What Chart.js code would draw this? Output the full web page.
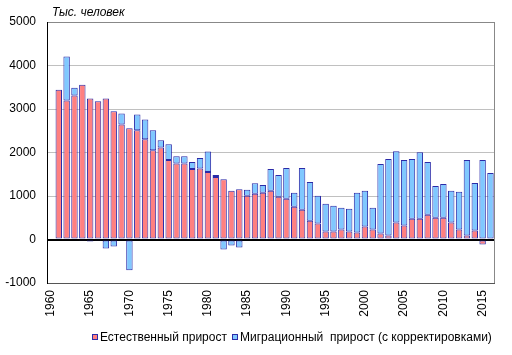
<!DOCTYPE html>
<html>
<head>
<meta charset="utf-8">
<script src="https://cdn.jsdelivr.net/npm/chart.js@4.4.1/dist/chart.umd.min.js"></script>
<style>
html,body{margin:0;padding:0;background:#fff;}
#wrap{width:512px;height:355px;position:relative;}
</style>
</head>
<body>
<div id="wrap"><canvas id="c" width="512" height="355"></canvas></div>
<script>
const years = [];
for (let y = 1960; y <= 2016; y++) years.push(String(y));

const naturalIncrease = [null,
 3445, 3194, 3308, 3559, 3240, 3179, 3240, 2951, 2646, 2555,
 2510, 2304, 2053, 2114, 1825, 1749, 1749, 1620, 1635, 1551,
 1437, 1384, 1118, 1156, 1004, 1049, 1072, 1118, 981, 935,
 753, 684, 433, 365, 183, 183, 228, 183, 160, 297,
 228, 137, 91, 388, 319, 479, 479, 570, 502, 502,
 388, 228, 91, 205, -114, -15];

const migrationIncrease = [null,
 -25, 1011, 182, -20, -45, -20, -205, -160, 251, -707,
 365, 456, 457, 167, 365, 167, 167, 159, 236, 472,
 46, -228, -137, -183, 137, 244, 183, 502, 502, 708,
 319, 958, 890, 639, 638, 593, 502, 524, 912, 821,
 502, 1597, 1757, 1642, 1506, 1369, 1529, 1209, 730, 776,
 730, 867, 1734, 1095, 1825, 1528];

const seriesNames = ['Естественный прирост', 'Миграционный  прирост (с корректировками)'];
const unitTitle = 'Тыс. человек';

const FONT = '"Liberation Sans", Arial, sans-serif';
const RED = '#ff8080';
const BLUE = '#80c8ff';
const EDGE = '#2b2ba8';

const extras = {
  id: 'extras',
  afterDraw(chart) {
    const ctx = chart.ctx;
    const a = chart.chartArea;
    ctx.save();
    ctx.strokeStyle = '#888';
    ctx.lineWidth = 1;
    ctx.beginPath();
    ctx.moveTo(Math.round(a.right) + 0.5, a.top);
    ctx.lineTo(Math.round(a.right) + 0.5, a.bottom);
    ctx.stroke();
    ctx.fillStyle = '#000';
    ctx.font = 'italic 12px ' + FONT;
    ctx.textBaseline = 'middle';
    ctx.textAlign = 'left';
    ctx.fillText(unitTitle, 52, 13);
    ctx.font = '12px ' + FONT;
    const items = [[RED, seriesNames[0], 92], [BLUE, seriesNames[1], 232]];
    items.forEach(([col, txt, x]) => {
      ctx.fillStyle = col;
      ctx.fillRect(x, 334, 6, 6);
      ctx.strokeStyle = EDGE;
      ctx.strokeRect(x + 0.5, 334.5, 5, 5);
      ctx.fillStyle = '#000';
      ctx.fillText(txt, x + 8, 338);
    });
    ctx.restore();
  }
};

new Chart(document.getElementById('c'), {
  type: 'bar',
  data: {
    labels: years,
    datasets: [
      { label: seriesNames[0], data: naturalIncrease, backgroundColor: RED, borderColor: EDGE, borderWidth: 1, borderSkipped: false },
      { label: seriesNames[1], data: migrationIncrease, backgroundColor: BLUE, borderColor: EDGE, borderWidth: 1, borderSkipped: false }
    ]
  },
  options: {
    responsive: false,
    animation: false,
    layout: { padding: { top: 22, right: 15, left: 0, bottom: 0 } },
    datasets: { bar: { categoryPercentage: 1.0, barPercentage: 0.82 } },
    plugins: { legend: { display: false }, tooltip: { enabled: false } },
    scales: {
      x: {
        stacked: true,
        grid: { display: false, drawTicks: false },
        border: { display: true, color: '#555', width: 1 },
        ticks: {
          autoSkip: false, maxRotation: 90, minRotation: 90, padding: 7,
          color: '#000', font: { family: FONT, size: 12 },
          callback: function(v, i) { const y = +years[i]; return y % 5 === 0 ? years[i] : ''; }
        },
        afterCalculateLabelRotation: s => { s.labelRotation = 90; },
        afterFit: s => { s.height = 72; }
      },
      y: {
        stacked: true,
        min: -1000, max: 5000,
        ticks: { stepSize: 1000, padding: 11, color: '#000', font: { family: FONT, size: 12 },
          callback: v => String(v) },
        grid: {
          drawTicks: false,
          color: c => c.tick.value === 0 ? '#000' : (c.tick.value === 5000 ? '#888' : '#c0c0c0'),
          lineWidth: c => c.tick.value === 0 ? 2 : 1
        },
        border: { display: true, color: '#000', width: 1 },
        afterFit: s => { s.width = 47; }
      }
    }
  },
  plugins: [extras]
});
</script>
</body>
</html>
